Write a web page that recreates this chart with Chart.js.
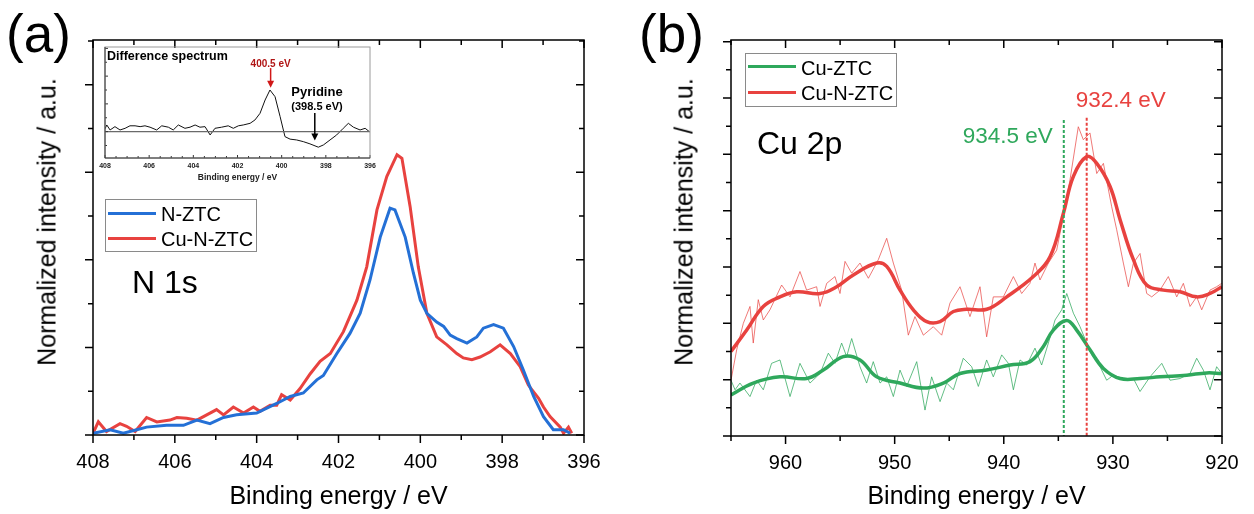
<!DOCTYPE html>
<html>
<head>
<meta charset="utf-8">
<script src="https://cdn.jsdelivr.net/npm/chart.js@4.4.1/dist/chart.umd.min.js"></script>
<style>
  body { margin: 0; background: #fff; font-family: 'Liberation Sans', Arial, sans-serif; }
  #wrap { position: relative; width: 1254px; height: 514px; overflow: hidden; background: #fff; }
  canvas { position: absolute; }
  .txt { position: absolute; line-height: 1; white-space: nowrap; color: #000; }
  .legend { position: absolute; border: 1px solid #8a8a8a; background: #fff; box-sizing: border-box; }
  .legend .ln { position: absolute; height: 3px; }
  .legend .lb { position: absolute; font-size: 20px; line-height: 1; white-space: nowrap; }
  .ytitle { position: absolute; font-size: 25px; line-height: 1; white-space: nowrap;
            transform: translate(-50%, -50%) rotate(-90deg); }
</style>
</head>
<body>
<div id="wrap">
  <canvas id="chartA" width="620" height="514" style="left:0;top:0"></canvas>
  <canvas id="chartB" width="634" height="514" style="left:620px;top:0"></canvas>
  <canvas id="inset" width="290" height="145" style="left:95px;top:42px"></canvas>

  <div class="txt" style="left:6px;top:7px;font-size:53px">(a)</div>
  <div class="txt" style="left:639px;top:7px;font-size:53px">(b)</div>

  <div class="ytitle" style="left:47px;top:222px">Normalized intensity / a.u.</div>
  <div class="ytitle" style="left:684px;top:222px">Normalized intensity / a.u.</div>

  <div class="txt" style="left:132px;top:266px;font-size:32px">N 1s</div>
  <div class="txt" style="left:757px;top:127px;font-size:32px">Cu 2p</div>

  <div class="legend" style="left:105px;top:199px;width:152px;height:53px">
    <div class="ln" style="left:2px;top:12px;width:48px;background:#2470d6"></div>
    <div class="lb" style="left:55px;top:4px">N-ZTC</div>
    <div class="ln" style="left:2px;top:37px;width:48px;background:#e8423f"></div>
    <div class="lb" style="left:55px;top:29px">Cu-N-ZTC</div>
  </div>
  <div class="legend" style="left:745px;top:53px;width:152px;height:54px">
    <div class="ln" style="left:2px;top:11px;width:48px;background:#2fa85c"></div>
    <div class="lb" style="left:55px;top:4px">Cu-ZTC</div>
    <div class="ln" style="left:2px;top:37px;width:48px;background:#e8423f"></div>
    <div class="lb" style="left:55px;top:29px">Cu-N-ZTC</div>
  </div>
</div>
<script>
// ---- (a) N 1s ----
const nEnergyBlue = [408.0, 407.58, 407.26, 406.93, 406.69, 406.20, 405.79, 405.46, 405.14, 404.81,
  404.49, 404.0, 403.51, 403.18, 402.86, 402.53, 402.37, 402.04, 401.72, 401.47, 401.23, 400.98,
  400.74, 400.62, 400.37, 400.17, 400.0, 399.84, 399.60, 399.43, 399.27, 399.11, 398.86, 398.62,
  398.46, 398.21, 397.97, 397.72, 397.48, 397.23, 396.99, 396.75, 396.50, 396.34];
const nZtc = [0.02, 0.06, 0.02, 0.06, 0.09, 0.11, 0.11, 0.17, 0.13, 0.20,
  0.23, 0.25, 0.36, 0.44, 0.48, 0.63, 0.68, 0.93, 1.16, 1.39, 1.77, 2.26,
  2.59, 2.57, 2.26, 1.85, 1.54, 1.39, 1.29, 1.24, 1.14, 1.10, 1.05, 1.12,
  1.22, 1.26, 1.22, 1.01, 0.74, 0.44, 0.21, 0.06, 0.06, 0.02];

const nEnergyRed = [408.0, 407.87, 407.67, 407.34, 407.18, 406.97, 406.69, 406.44, 406.12, 405.95,
  405.71, 405.46, 404.98, 404.81, 404.57, 404.32, 404.08, 403.92, 403.67, 403.51, 403.39, 403.18,
  402.94, 402.69, 402.45, 402.20, 401.88, 401.55, 401.31, 401.06, 400.82, 400.57, 400.45, 400.25,
  400.05, 399.84, 399.60, 399.35, 399.11, 398.95, 398.74, 398.54, 398.29, 398.05, 397.80, 397.56,
  397.36, 397.11, 396.99, 396.83, 396.58, 396.50, 396.38, 396.30];
const cuNZtcN = [0.02, 0.15, 0.04, 0.13, 0.10, 0.04, 0.20, 0.15, 0.17, 0.20,
  0.19, 0.17, 0.29, 0.23, 0.32, 0.25, 0.32, 0.27, 0.34, 0.34, 0.46, 0.40,
  0.53, 0.70, 0.84, 0.93, 1.18, 1.54, 1.92, 2.57, 2.95, 3.20, 3.16, 2.61,
  1.92, 1.39, 1.12, 1.03, 0.93, 0.88, 0.86, 0.89, 0.95, 1.03, 0.93, 0.78,
  0.57, 0.42, 0.32, 0.21, 0.09, 0.02, 0.09, 0.02];

// ---- inset: difference spectrum ----
const diffEnergy = [408.0, 407.92, 407.77, 407.55, 407.32, 407.09, 406.87, 406.64, 406.41, 406.19,
  405.96, 405.66, 405.43, 405.13, 404.91, 404.68, 404.38, 404.15, 403.92, 403.70, 403.47, 403.24,
  403.02, 402.72, 402.42, 402.19, 401.96, 401.74, 401.43, 401.21, 400.98, 400.75, 400.53, 400.30,
  400.07, 399.85, 399.62, 399.32, 399.02, 398.72, 398.34, 398.11, 397.81, 397.51, 397.21, 396.98,
  396.75, 396.45, 396.22, 396.03];
const diffSpectrum = [0.10, 0.24, 0.06, 0.18, 0.06, 0.12, 0.21, 0.21, 0.18, 0.21,
  0.16, 0.06, 0.21, 0.16, 0.06, 0.24, 0.12, 0.16, 0.24, 0.16, 0.18, -0.12,
  0.12, 0.16, 0.21, 0.12, 0.21, 0.24, 0.30, 0.42, 0.66, 1.14, 1.50, 1.26,
  0.54, -0.18, -0.27, -0.30, -0.36, -0.44, -0.56, -0.48, -0.30, -0.12, 0.12, 0.30,
  0.16, 0.06, 0.12, 0.0];

// ---- (b) Cu 2p ----
const cuZtcRawE = [965.0, 964.63, 964.18, 963.26, 962.65, 962.04, 961.28, 960.51, 959.59, 958.68,
  957.76, 956.84, 956.08, 955.47, 954.86, 954.40, 953.94, 953.18, 952.57, 951.96, 951.34, 950.73,
  950.12, 949.51, 948.90, 947.98, 947.22, 946.61, 945.84, 945.23, 944.62, 943.71, 942.94, 942.33,
  941.57, 940.96, 940.19, 939.58, 939.12, 938.51, 937.90, 937.14, 936.53, 935.91, 935.30, 934.69,
  934.23, 933.62, 933.01, 932.40, 931.94, 931.33, 930.57, 929.96, 929.04, 928.12, 927.51, 926.60,
  925.52, 924.76, 923.85, 922.93, 922.32, 921.71, 921.10, 920.49, 920.03];
const cuZtcRaw = [0.99, 0.82, 0.94, 0.70, 0.99, 0.82, 1.29, 1.35, 0.70, 1.29,
  0.94, 1.11, 1.47, 1.29, 1.65, 1.41, 1.73, 1.23, 0.94, 1.32, 0.94, 1.05,
  0.70, 1.17, 0.88, 1.32, 0.46, 1.05, 0.61, 0.94, 0.82, 1.38, 1.23, 0.88,
  1.35, 1.05, 1.44, 1.29, 0.82, 1.35, 1.26, 1.56, 1.26, 1.65, 2.06, 2.24,
  2.53, 2.18, 1.94, 1.65, 1.44, 1.29, 0.99, 1.08, 1.02, 1.02, 0.79, 1.05,
  1.29, 0.99, 1.02, 1.11, 1.38, 1.17, 0.82, 1.23, 1.11];

const cuZtcFitE = [965.0, 962.96, 960.51, 958.07, 956.54, 954.71, 953.18, 951.65, 949.51, 947.37,
  945.54, 944.01, 941.57, 939.43, 937.60, 936.37, 935.46, 934.23, 933.32, 932.10, 930.87, 929.34,
  927.51, 925.68, 923.24, 921.40, 920.03];
const cuZtcFit = [0.73, 0.94, 1.05, 1.02, 1.17, 1.41, 1.35, 1.05, 0.94, 0.85,
  0.94, 1.11, 1.17, 1.26, 1.32, 1.59, 1.88, 2.05, 1.88, 1.53, 1.20, 1.02,
  1.02, 1.05, 1.08, 1.12, 1.11];

const cuNZtcRawE = [965.0, 964.48, 963.87, 963.26, 962.96, 962.50, 962.04, 961.43, 960.36, 959.59,
  958.68, 958.07, 957.15, 956.84, 956.23, 955.47, 955.01, 954.55, 953.94, 953.18, 952.41, 951.50,
  950.73, 950.12, 949.36, 948.75, 948.14, 947.37, 946.46, 945.69, 944.93, 944.01, 943.10, 942.18,
  941.57, 940.96, 940.04, 939.12, 938.36, 937.60, 937.14, 936.68, 935.91, 935.15, 934.54, 933.93,
  933.17, 932.71, 932.10, 931.48, 930.87, 930.11, 929.65, 929.04, 928.58, 928.12, 927.51, 926.90,
  926.44, 925.68, 924.92, 924.15, 923.54, 922.93, 922.32, 921.86, 921.10, 920.49, 920.03];
const cuNZtcRaw = [0.99, 1.53, 2.00, 2.30, 1.65, 2.42, 2.06, 2.24, 2.68, 2.47,
  2.92, 2.59, 2.65, 2.30, 2.71, 2.83, 2.53, 3.10, 2.89, 3.07, 2.80, 3.13,
  3.51, 3.07, 2.59, 1.79, 2.12, 1.79, 1.94, 1.79, 2.36, 2.65, 2.12, 2.65,
  1.76, 2.47, 2.47, 2.83, 2.53, 2.71, 3.07, 2.77, 3.07, 3.30, 3.90, 4.55,
  5.49, 5.26, 5.38, 4.66, 4.84, 4.07, 3.66, 3.07, 2.65, 3.07, 3.24, 2.53,
  2.47, 2.59, 2.83, 2.47, 2.71, 2.30, 2.47, 2.24, 2.59, 2.65, 2.71];

const cuNZtcFitE = [965.0, 963.56, 962.04, 960.51, 958.98, 956.84, 955.31, 953.79, 951.65, 950.73,
  949.51, 948.29, 947.06, 945.84, 944.62, 943.40, 941.56, 939.73, 937.29, 935.76, 934.54, 933.62,
  932.40, 931.48, 930.26, 929.34, 928.12, 926.90, 925.37, 923.84, 922.31, 921.09, 920.02];
const cuNZtcFit = [1.50, 1.88, 2.30, 2.47, 2.56, 2.53, 2.65, 2.86, 3.07, 3.01,
  2.59, 2.24, 2.03, 2.03, 2.21, 2.25, 2.25, 2.47, 2.83, 3.18, 3.95, 4.61,
  4.96, 4.84, 4.43, 3.84, 3.13, 2.68, 2.59, 2.56, 2.47, 2.53, 2.65];

const peakEnergies = [934.5, 932.4];
const peakLabels = ['934.5 eV', '932.4 eV'];

const FONT = "'Liberation Sans', Arial, sans-serif";
const BLUE = '#2470d6', RED = '#e8423f', GREEN = '#2fa85c';

function pts(xs, ys) { return xs.map((x, i) => ({x: x, y: ys[i]})); }

// frame with inward/outward tick marks, placed with the chart's own scales
const framePlugin = {
  id: 'frame',
  afterDraw(chart, args, o) {
    const {ctx, chartArea: a} = chart;
    const x = chart.scales.x, y = chart.scales.y;
    ctx.save();
    ctx.lineWidth = o.lineWidth;
    ctx.strokeStyle = o.color;
    ctx.beginPath();
    const n0 = Math.ceil(Math.min(x.min, x.max) / o.xMinor - 1e-6), n1 = Math.floor(Math.max(x.min, x.max) / o.xMinor + 1e-6);
    for (let n = n0; n <= n1; n++) {
      const v = n * o.xMinor;
      const major = Math.abs(v / o.xMajor - Math.round(v / o.xMajor)) < 1e-6;
      const len = major ? o.major : o.minor;
      const px = x.getPixelForValue(v);
      ctx.moveTo(px, a.bottom); ctx.lineTo(px, a.bottom + len * o.bottomDir);
      if (o.topTicks) { ctx.moveTo(px, a.top); ctx.lineTo(px, a.top + len); }
    }
    const m0 = Math.ceil(y.min / o.yMinor - 1e-6), m1 = Math.floor(y.max / o.yMinor + 1e-6);
    for (let m = m0; m <= m1; m++) {
      const v = m * o.yMinor;
      const major = Math.abs(v / o.yMajor - Math.round(v / o.yMajor)) < 1e-6;
      const len = major ? o.major : o.minor;
      const py = y.getPixelForValue(v);
      ctx.moveTo(a.left, py); ctx.lineTo(a.left - len * o.leftDir, py);
      if (o.rightTicks) { ctx.moveTo(a.right, py); ctx.lineTo(a.right - len, py); }
    }
    ctx.stroke();
    ctx.strokeStyle = o.frameColor || o.color;
    ctx.strokeRect(a.left, a.top, a.right - a.left, a.bottom - a.top);
    if (o.axisColor) {
      ctx.strokeStyle = o.axisColor;
      ctx.beginPath();
      ctx.moveTo(a.left, a.top); ctx.lineTo(a.left, a.bottom); ctx.lineTo(a.right, a.bottom);
      ctx.stroke();
    }
    ctx.restore();
  }
};

// text notes, arrows and dotted marker lines anchored to data values
const notesPlugin = {
  id: 'notes',
  afterDatasetsDraw(chart, args, o) {
    const {ctx} = chart;
    const x = chart.scales.x, y = chart.scales.y;
    ctx.save();
    (o.vlines || []).forEach(l => {
      ctx.strokeStyle = l.color; ctx.lineWidth = 2; ctx.setLineDash([3, 2]);
      ctx.beginPath();
      ctx.moveTo(x.getPixelForValue(l.x), y.getPixelForValue(l.y));
      ctx.lineTo(x.getPixelForValue(l.x), chart.chartArea.bottom);
      ctx.stroke();
    });
    ctx.setLineDash([]);
    (o.arrows || []).forEach(r => {
      const px = x.getPixelForValue(r.x), p1 = y.getPixelForValue(r.y1), p2 = y.getPixelForValue(r.y2);
      ctx.strokeStyle = r.color; ctx.fillStyle = r.color; ctx.lineWidth = 1.5;
      ctx.beginPath(); ctx.moveTo(px, p1); ctx.lineTo(px, p2 - 5); ctx.stroke();
      ctx.beginPath(); ctx.moveTo(px - 3.5, p2 - 7); ctx.lineTo(px + 3.5, p2 - 7); ctx.lineTo(px, p2); ctx.closePath(); ctx.fill();
    });
    (o.texts || []).forEach(t => {
      ctx.font = t.font; ctx.fillStyle = t.color; ctx.textAlign = t.align || 'center';
      ctx.textBaseline = t.baseline || 'alphabetic';
      const px = t.px !== undefined ? chart.chartArea.left + t.px : x.getPixelForValue(t.x) + (t.dx || 0);
      const py = t.py !== undefined ? chart.chartArea.top + t.py : y.getPixelForValue(t.y);
      ctx.fillText(t.text, px, py);
    });
    ctx.restore();
  }
};

function mainOptions(cfg) {
  return {
    responsive: false,
    animation: false,
    layout: {autoPadding: false, padding: cfg.padding},
    plugins: {
      legend: {display: false},
      tooltip: {enabled: false},
      frame: Object.assign({lineWidth: 1.5, color: '#000', major: 8, minor: 5, bottomDir: 1, leftDir: 1,
        topTicks: true, rightTicks: true}, cfg.frame),
      notes: cfg.notes || {}
    },
    scales: {
      x: {
        type: 'linear', reverse: true, min: cfg.xMin, max: cfg.xMax,
        grid: {display: false, drawTicks: false}, border: {display: false},
        ticks: {stepSize: cfg.xStep, includeBounds: false, color: '#000', padding: 15,
          maxRotation: 0, font: {family: FONT, size: 20}},
        title: {display: true, text: 'Binding energy / eV', color: '#000',
          font: {family: FONT, size: 25}, padding: {top: 0, bottom: 2}},
        afterFit: s => { s.height = cfg.xHeight; }
      },
      y: {
        min: 0, max: cfg.yMax,
        grid: {display: false, drawTicks: false}, border: {display: false},
        ticks: {display: false, stepSize: 0.5},
        afterFit: s => { s.width = cfg.yWidth; }
      }
    }
  };
}

function line(data, color, width, extra) {
  return Object.assign({data: data, borderColor: color, borderWidth: width, pointRadius: 0,
    tension: 0, fill: false}, extra || {});
}

new Chart(document.getElementById('chartA'), {
  type: 'line',
  data: {datasets: [
    line(pts(nEnergyBlue, nZtc), BLUE, 3),
    line(pts(nEnergyRed, cuNZtcN), RED, 3)
  ]},
  options: mainOptions({
    padding: {top: 40, right: 36, left: 0, bottom: 0},
    xMin: 396, xMax: 408, xStep: 2, yMax: 4.51, xHeight: 79, yWidth: 93,
    frame: {xMajor: 2, xMinor: 1, yMajor: 1, yMinor: 0.5}
  }),
  plugins: [framePlugin, notesPlugin]
});

new Chart(document.getElementById('chartB'), {
  type: 'line',
  data: {datasets: [
    line(pts(cuZtcRawE, cuZtcRaw), 'rgba(47,168,92,0.75)', 1),
    line(pts(cuNZtcRawE, cuNZtcRaw), 'rgba(232,66,63,0.7)', 1),
    line(pts(cuZtcFitE, cuZtcFit), GREEN, 3.5, {tension: 0.4}),
    line(pts(cuNZtcFitE, cuNZtcFit), RED, 3.5, {tension: 0.4})
  ]},
  options: mainOptions({
    padding: {top: 40, right: 32, left: 0, bottom: 0},
    xMin: 920, xMax: 965, xStep: 10, yMax: 7.03, xHeight: 78, yWidth: 111,
    frame: {xMajor: 10, xMinor: 5, yMajor: 1, yMinor: 0.5},
    notes: {
      vlines: [
        {x: peakEnergies[0], y: 5.61, color: GREEN},
        {x: peakEnergies[1], y: 5.65, color: RED}
      ],
      texts: [
        {text: peakLabels[0], x: peakEnergies[0], dx: -11, y: 5.21, align: 'right',
          font: '22.5px ' + FONT, color: GREEN},
        {text: peakLabels[1], x: peakEnergies[1], dx: -11, y: 5.84, align: 'left',
          font: '22.5px ' + FONT, color: RED}
      ]
    }
  }),
  plugins: [framePlugin, notesPlugin]
});

new Chart(document.getElementById('inset'), {
  type: 'line',
  data: {datasets: [
    line([{x: 408, y: 0}, {x: 396, y: 0}], '#6a6a6a', 1.2),
    line(pts(diffEnergy, diffSpectrum), '#111', 1)
  ]},
  options: {
    responsive: false,
    animation: false,
    layout: {autoPadding: false, padding: {top: 5, right: 15, left: 0, bottom: 0}},
    plugins: {
      legend: {display: false},
      tooltip: {enabled: false},
      frame: {lineWidth: 1, color: '#333', frameColor: '#9a9a9a', axisColor: '#333', major: 3, minor: 2,
        bottomDir: -1, leftDir: -1, topTicks: false, rightTicks: false,
        xMajor: 2, xMinor: 0.5, yMajor: 1, yMinor: 0.5},
      notes: {
        arrows: [
          {x: 400.5, y1: 2.29, y2: 1.58, color: '#d01818'},
          {x: 398.5, y1: 0.67, y2: -0.32, color: '#000'}
        ],
        texts: [
          {text: 'Difference spectrum', px: 2, py: 10, align: 'left', baseline: 'middle',
            font: 'bold 12.5px ' + FONT, color: '#000'},
          {text: '400.5 eV', x: 400.5, y: 2.42, baseline: 'middle', font: 'bold 10px ' + FONT, color: '#b01414'},
          {text: 'Pyridine', x: 398.4, y: 1.43, baseline: 'middle', font: 'bold 13px ' + FONT, color: '#000'},
          {text: '(398.5 eV)', x: 398.4, y: 0.89, baseline: 'middle', font: 'bold 11px ' + FONT, color: '#000'}
        ]
      }
    },
    scales: {
      x: {
        type: 'linear', reverse: true, min: 396, max: 408,
        grid: {display: false, drawTicks: false}, border: {display: false},
        ticks: {stepSize: 2, color: '#222', padding: 4, maxRotation: 0,
          font: {family: FONT, size: 7, weight: 'bold'}},
        title: {display: true, text: 'Binding energy / eV', color: '#222',
          font: {family: FONT, size: 8.5, weight: 'bold'}, padding: {top: 0, bottom: 4}},
        afterFit: s => { s.height = 29; }
      },
      y: {
        min: -0.95, max: 3.05,
        grid: {display: false, drawTicks: false}, border: {display: false},
        ticks: {display: false, stepSize: 0.5},
        afterFit: s => { s.width = 10; }
      }
    }
  },
  plugins: [framePlugin, notesPlugin]
});
</script>
</body>
</html>
